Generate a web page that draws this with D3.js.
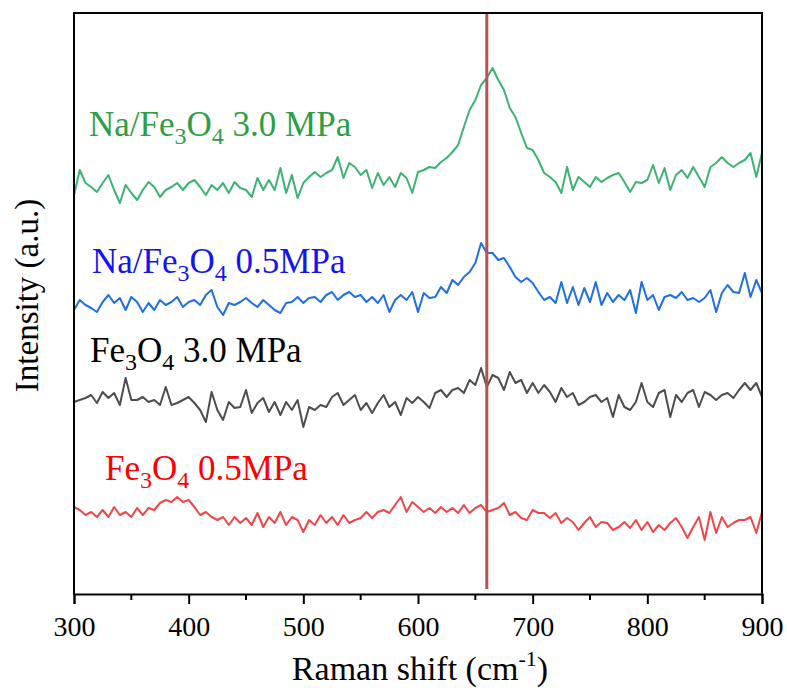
<!DOCTYPE html>
<html>
<head>
<meta charset="utf-8">
<script src="https://cdn.jsdelivr.net/npm/d3@7"></script>
</head>
<body style="margin:0">
<div id="app"></div>
<script>
const width = 787;
const height = 688;
const margin = {top: 13, right: 25, bottom: 94, left: 74};
const serif = '"Liberation Serif"';

// Raman shift (cm-1), one sample every 5 cm-1
const shift = d3.range(300, 901, 5);

// stacked, offset intensities (a.u.)
const fe3o4_05 = [87, 84, 79, 82, 77, 84, 77, 87, 79, 82, 77, 86, 79, 86, 84, 91, 94, 92, 97, 92,
  94, 87, 79, 82, 77, 74, 77, 69, 77, 71, 76, 69, 81, 67, 77, 71, 82, 69, 77, 74,
  62, 74, 69, 79, 71, 77, 69, 79, 71, 74, 76, 82, 76, 82, 84, 81, 89, 97, 82, 92,
  87, 82, 86, 81, 87, 82, 86, 81, 89, 81, 86, 89, 82, 84, 86, 91, 79, 82, 76, 74,
  84, 81, 81, 76, 81, 71, 76, 72, 64, 71, 77, 67, 72, 71, 64, 67, 72, 66, 74, 64,
  72, 62, 69, 64, 71, 76, 67, 56, 67, 77, 54, 82, 61, 77, 67, 71, 74, 74, 77, 61, 82];

const fe3o4_30 = [192, 194, 196, 199, 191, 202, 196, 201, 189, 216, 194, 194, 197, 192, 194, 189, 207, 189, 191, 194,
  197, 191, 184, 172, 202, 184, 174, 192, 186, 187, 204, 181, 191, 196, 182, 192, 179, 192, 184, 194,
  167, 187, 184, 189, 187, 197, 201, 189, 194, 199, 184, 191, 181, 191, 199, 187, 192, 179, 196, 191,
  197, 192, 186, 201, 204, 197, 204, 206, 201, 214, 209, 226, 207, 219, 216, 204, 222, 211, 214, 201,
  211, 201, 209, 202, 192, 206, 197, 201, 189, 192, 197, 199, 192, 196, 177, 199, 187, 184, 192, 211,
  192, 187, 201, 204, 177, 199, 192, 201, 204, 187, 202, 199, 194, 199, 201, 196, 204, 211, 204, 211, 197];

const na_fe3o4_05 = [284, 294, 289, 286, 282, 292, 299, 291, 296, 284, 297, 292, 282, 291, 284, 294, 289, 292, 297, 287,
  292, 294, 289, 299, 304, 287, 279, 291, 289, 292, 296, 291, 287, 294, 289, 284, 281, 291, 292, 297,
  291, 296, 297, 292, 299, 302, 294, 299, 302, 297, 299, 292, 297, 291, 299, 282, 294, 299, 294, 302,
  282, 301, 296, 297, 307, 301, 314, 309, 317, 322, 331, 351, 341, 341, 334, 336, 327, 317, 312, 316,
  311, 302, 294, 297, 291, 312, 291, 307, 289, 306, 292, 312, 289, 301, 292, 299, 294, 304, 281, 312,
  294, 299, 284, 297, 299, 296, 302, 294, 296, 292, 296, 304, 282, 301, 309, 302, 301, 321, 297, 314, 301];

const na_fe3o4_30 = [399, 424, 411, 407, 402, 411, 419, 404, 391, 409, 401, 394, 404, 412, 407, 397, 404, 407, 411, 404,
  411, 414, 407, 399, 409, 404, 411, 401, 412, 406, 404, 397, 416, 404, 414, 404, 426, 401, 419, 396,
  411, 417, 422, 417, 421, 424, 437, 416, 431, 427, 419, 424, 406, 421, 409, 417, 407, 421, 416, 401,
  422, 424, 427, 426, 432, 436, 442, 449, 467, 484, 494, 509, 516, 526, 514, 504, 486, 477, 461, 446,
  444, 434, 421, 417, 412, 401, 427, 404, 417, 412, 407, 417, 412, 416, 419, 421, 412, 402, 412, 411,
  414, 429, 411, 426, 404, 419, 424, 416, 427, 417, 407, 427, 431, 437, 431, 427, 431, 434, 441, 417, 441];

const series = [
  {name: 'Fe3O4 0.5MPa', values: fe3o4_05, color: '#f04549'},
  {name: 'Fe3O4 3.0 MPa', values: fe3o4_30, color: '#4d4d4d'},
  {name: 'Na/Fe3O4 0.5MPa', values: na_fe3o4_05, color: '#1f6fe0'},
  {name: 'Na/Fe3O4 3.0 MPa', values: na_fe3o4_30, color: '#3cb371'},
];

// label pieces: [text, isSubscript]
const labels = [
  {parts: [['Fe', 0], ['3', 1], ['O', 0], ['4', 1], [' 0.5MPa', 0]], x: 300, y: 114, color: '#ff0000', dx: 31},
  {parts: [['Fe', 0], ['3', 1], ['O', 0], ['4', 1], [' 3.0 MPa', 0]], x: 300, y: 232, color: '#000000', dx: 16},
  {parts: [['Na/Fe', 0], ['3', 1], ['O', 0], ['4', 1], [' 0.5MPa', 0]], x: 300, y: 321, color: '#1414ee', dx: 18},
  {parts: [['Na/Fe', 0], ['3', 1], ['O', 0], ['4', 1], [' 3.0 MPa', 0]], x: 300, y: 458, color: '#2e9e45', dx: 15},
];

const peakShift = 660;
const xTicks = [300, 400, 500, 600, 700, 800, 900];

const x = d3.scaleLinear()
  .domain([300, 900])
  .range([margin.left, width - margin.right]);

const y = d3.scaleLinear()
  .domain([0, 581])
  .range([height - margin.bottom, margin.top]);

const svg = d3.create('svg')
  .attr('width', width)
  .attr('height', height)
  .style('display', 'block')
  .style('font-family', serif);

const line = d3.line()
  .x((d, i)=>x(shift[i]))
  .y((d)=>y(d));

svg.append('g')
  .attr('fill', 'none')
  .attr('stroke-width', 2)
  .attr('stroke-linejoin', 'round')
  .selectAll('path')
  .data(series)
  .join('path')
  .attr('stroke', (d)=>d.color)
  .attr('d', (d)=>line(d.values));

// marker line at the Fe3O4 A1g band
svg.append('line')
  .attr('x1', x(peakShift))
  .attr('x2', x(peakShift))
  .attr('y1', margin.top)
  .attr('y2', height - margin.bottom - 5)
  .attr('stroke', '#c0504d')
  .attr('stroke-width', 3);

// frame: left, top, right edges
const x0 = margin.left;
const x1 = width - margin.right;
const y0 = margin.top;
const y1 = height - margin.bottom;
svg.append('g')
  .attr('stroke', '#000')
  .attr('stroke-width', 2)
  .attr('stroke-linecap', 'square')
  .selectAll('line')
  .data([[x0, y0, x0, y1], [x0, y0, x1, y0], [x1, y0, x1, y1]])
  .join('line')
  .attr('x1', (d)=>d[0])
  .attr('y1', (d)=>d[1])
  .attr('x2', (d)=>d[2])
  .attr('y2', (d)=>d[3]);

// bottom axis: major + minor ticks
const xAxis = svg.append('g')
  .attr('transform', `translate(0,${y1})`)
  .call(d3.axisBottom(x).tickValues(xTicks).tickSize(10).tickPadding(12).tickFormat(d3.format('d')));
xAxis.attr('font-family', null).attr('font-size', null);
xAxis.select('.domain').attr('stroke-width', 2);
xAxis.selectAll('.tick line').attr('stroke-width', 2);
xAxis.selectAll('.tick text')
  .style('font-family', serif)
  .attr('font-size', 28)
  .attr('fill', '#000');

svg.append('g')
  .attr('transform', `translate(0,${y1})`)
  .selectAll('line')
  .data(d3.range(350, 900, 100))
  .join('line')
  .attr('x1', (d)=>x(d))
  .attr('x2', (d)=>x(d))
  .attr('y1', 0)
  .attr('y2', 6)
  .attr('stroke', '#000')
  .attr('stroke-width', 2);

// axis titles
const xTitle = svg.append('text')
  .attr('x', (x0 + x1) / 2 + 2)
  .attr('y', 680)
  .attr('text-anchor', 'middle')
  .style('font-family', serif)
  .attr('font-size', 34);
xTitle.append('tspan').text('Raman shift (cm');
xTitle.append('tspan').attr('font-size', 22).attr('dy', -14).text('-1');
xTitle.append('tspan').attr('dy', 14).text(')');

svg.append('text')
  .attr('transform', `translate(38,${(y0 + y1) / 2 - 8}) rotate(-90)`)
  .attr('text-anchor', 'middle')
  .style('font-family', serif)
  .attr('font-size', 33)
  .text('Intensity (a.u.)');

// curve labels
labels.forEach((lab)=>{
  const t = svg.append('text')
    .attr('x', x(lab.x) + lab.dx)
    .attr('y', y(lab.y))
    .style('font-family', serif)
    .attr('font-size', 35)
    .attr('fill', lab.color);
  let shifted = false;
  lab.parts.forEach(([str, sub])=>{
    const ts = t.append('tspan').text(str);
    if (sub && !shifted) {
      ts.attr('font-size', 24).attr('dy', 8);
      shifted = true;
    } else if (!sub && shifted) {
      ts.attr('dy', -8);
      shifted = false;
    } else if (sub) {
      ts.attr('font-size', 24);
    }
  });
});

document.getElementById('app').appendChild(svg.node());
</script>
</body>
</html>
